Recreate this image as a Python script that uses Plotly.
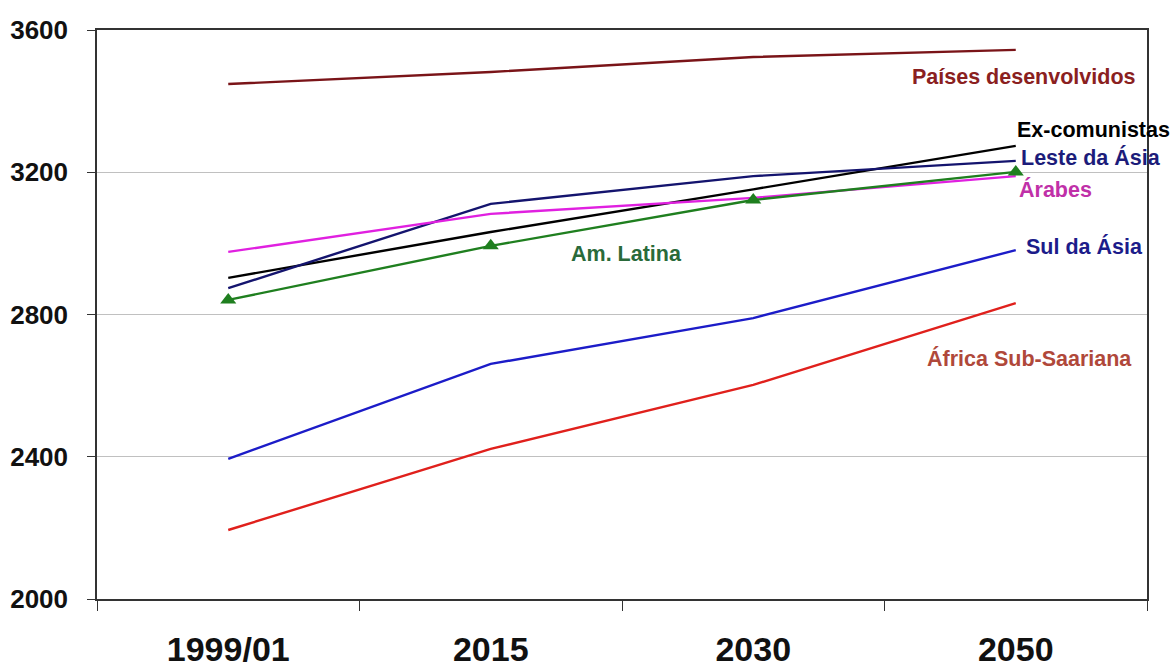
import plotly.graph_objects as go

years = ["1999/01", "2015", "2030", "2050"]
desenvolvidos = [3448, 3482, 3524, 3544]
ex_comunistas = [2903, 3032, 3152, 3274]
leste_asia = [2874, 3111, 3189, 3232]
arabes = [2976, 3083, 3128, 3189]
am_latina = [2841, 2993, 3122, 3201]
sul_asia = [2394, 2661, 2790, 2981]
africa = [2194, 2422, 2602, 2832]

y_ticks = [2000, 2400, 2800, 3200, 3600]

series = [
    ("Países desenvolvidos", desenvolvidos, "#7a1418", None),
    ("Ex-comunistas", ex_comunistas, "#000000", None),
    ("Leste da Ásia", leste_asia, "#14146e", None),
    ("Árabes", arabes, "#e020e0", None),
    ("Am. Latina", am_latina, "#1f7f1f", "triangle-up"),
    ("Sul da Ásia", sul_asia, "#1c1cc8", None),
    ("África Sub-Saariana", africa, "#e0201c", None),
]

fig = go.Figure()
for name, vals, color, marker in series:
    fig.add_trace(go.Scatter(
        x=years, y=vals, name=name,
        mode="lines+markers" if marker else "lines",
        line=dict(color=color, width=2.4),
        marker=dict(symbol=marker or "circle", size=14, color=color),
        showlegend=False,
    ))

labels = [
    ("Países desenvolvidos", 912, 77, "#8a2020"),
    ("Ex-comunistas", 1017, 130, "#000000"),
    ("Leste da Ásia", 1021, 157, "#1c1c7a"),
    ("Árabes", 1019, 190, "#c030a8"),
    ("Am. Latina", 571, 254, "#2a6a3a"),
    ("Sul da Ásia", 1026, 246, "#1c1c8a"),
    ("África Sub-Saariana", 927, 358, "#b0483a"),
]
L, R, T, B = 97, 1147, 30, 599
for text, px, py, color in labels:
    fig.add_annotation(
        x=(px - L) / (R - L), y=(B - py) / (B - T), xref="paper", yref="paper",
        text=text, showarrow=False, xanchor="left", yanchor="middle",
        xshift=-2,
        font=dict(family="Liberation Sans, Arial", size=21.5, color=color, weight="bold"),
    )

fig.update_layout(
    width=1174, height=670,
    margin=dict(l=97, r=27, t=30, b=71),
    paper_bgcolor="white", plot_bgcolor="white",
    xaxis=dict(
        type="category", range=[-0.5, 3.5], tickson="boundaries", ticks="outside", ticklen=10,
        tickcolor="#333333", showline=True, linecolor="#333333", linewidth=1.5,
        mirror=True, showgrid=False, automargin=False,
        tickfont=dict(family="Liberation Sans, Arial", size=34, color="#111111", weight="bold"),
        ticklabelstandoff=19,
    ),
    yaxis=dict(
        range=[2000, 3600], tickvals=y_ticks, ticks="outside", ticklen=8,
        tickcolor="#333333", showline=True, linecolor="#333333", linewidth=1.5,
        mirror=True, showgrid=True, gridcolor="#c0c0c0", gridwidth=1, automargin=False,
        tickfont=dict(family="Liberation Sans, Arial", size=26, color="#111111", weight="bold"),
        ticklabelstandoff=14, zeroline=False,
    ),
)

fig.write_html("out.html")
